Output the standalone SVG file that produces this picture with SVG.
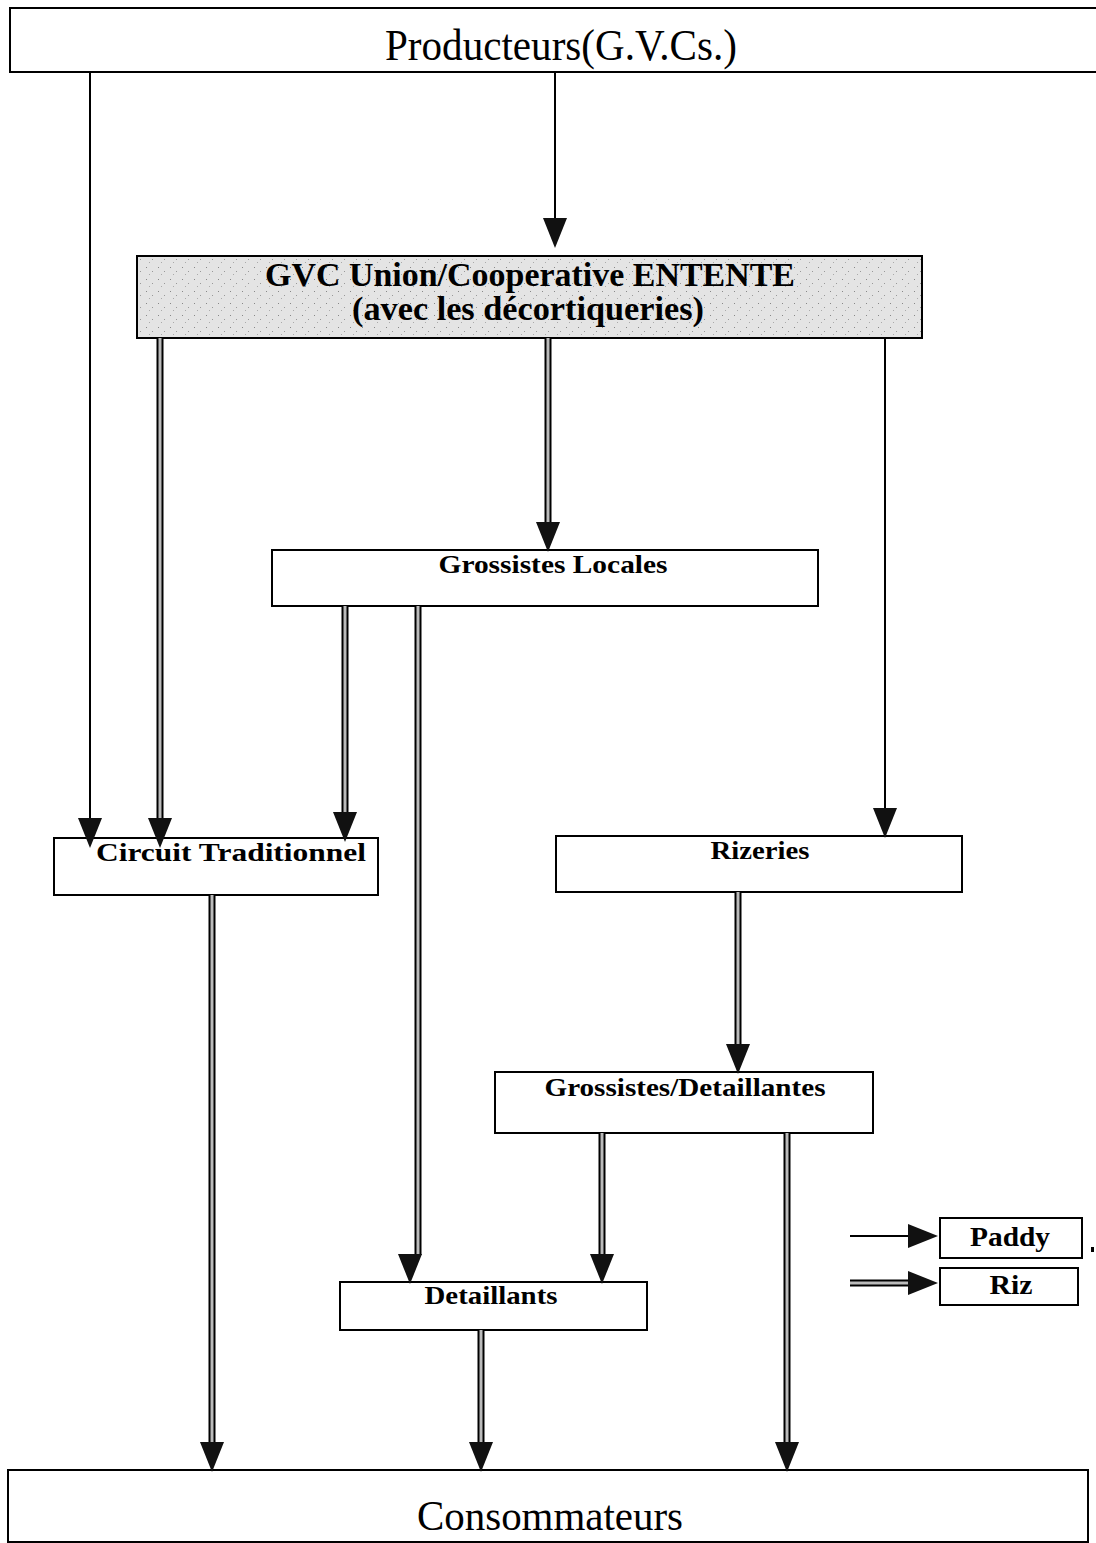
<svg xmlns="http://www.w3.org/2000/svg" width="1096" height="1543" viewBox="0 0 1096 1543">
<style>
.box{fill:#fff;stroke:#000;stroke-width:2}
.t{font-family:"Liberation Serif","Times New Roman",serif;fill:#000;text-anchor:middle}
.b{font-weight:bold}
.single{stroke:#000;stroke-width:2;fill:none}
.dblo{stroke:#000;stroke-width:7;fill:none}
.dbli{stroke:#bbb;stroke-width:3;fill:none}
</style>
<defs>
<path id="ah" d="M-12,-28 L12,-28 L0,2 Z" fill="#111"/>
<path id="ahr" d="M-28,-12 L-28,12 L2,0 Z" fill="#111"/>
<pattern id="speck" width="12" height="12" patternUnits="userSpaceOnUse">
<rect width="12" height="12" fill="#e4e4e4"/>
<rect x="2" y="3" width="1" height="1" fill="#888"/>
<rect x="8" y="7" width="1" height="1" fill="#999"/>
<rect x="5" y="10" width="1" height="1" fill="#aaa"/>
</pattern>
</defs>
<g id="producteurs">
<rect class="box" x="10" y="8" width="1090" height="64"/>
<text class="t" x="561" y="60" font-size="44" textLength="352" lengthAdjust="spacingAndGlyphs">Producteurs(G.V.Cs.)</text>
</g>
<g id="gvc">
<rect x="137" y="256" width="785" height="82" fill="url(#speck)" stroke="#000" stroke-width="2"/>
<text class="t b" x="530" y="286" font-size="34" textLength="530" lengthAdjust="spacingAndGlyphs">GVC Union/Cooperative ENTENTE</text>
<text class="t b" x="528" y="320" font-size="34" textLength="352" lengthAdjust="spacingAndGlyphs">(avec les décortiqueries)</text>
</g>
<g id="grossistes-locales">
<rect class="box" x="272" y="550" width="546" height="56"/>
<text class="t b" x="553" y="573" font-size="26" textLength="229" lengthAdjust="spacingAndGlyphs">Grossistes Locales</text>
</g>
<g id="circuit-traditionnel">
<rect class="box" x="54" y="838" width="324" height="57"/>
<text class="t b" x="231" y="861" font-size="26" textLength="270" lengthAdjust="spacingAndGlyphs">Circuit Traditionnel</text>
</g>
<g id="rizeries">
<rect class="box" x="556" y="836" width="406" height="56"/>
<text class="t b" x="760" y="859" font-size="26" textLength="99" lengthAdjust="spacingAndGlyphs">Rizeries</text>
</g>
<g id="grossistes-detaillantes">
<rect class="box" x="495" y="1072" width="378" height="61"/>
<text class="t b" x="685" y="1096" font-size="26" textLength="281" lengthAdjust="spacingAndGlyphs">Grossistes/Detaillantes</text>
</g>
<g id="detaillants">
<rect class="box" x="340" y="1282" width="307" height="48"/>
<text class="t b" x="491" y="1304" font-size="26" textLength="133" lengthAdjust="spacingAndGlyphs">Detaillants</text>
</g>
<g id="consommateurs">
<rect class="box" x="8" y="1470" width="1080" height="72"/>
<text class="t" x="550" y="1530" font-size="42" textLength="266" lengthAdjust="spacingAndGlyphs">Consommateurs</text>
</g>
<g id="legend">
<line class="single" x1="850" y1="1236" x2="910" y2="1236"/>
<use href="#ahr" x="936" y="1236"/>
<rect class="box" x="940" y="1218" width="142" height="40"/>
<text class="t b" x="1010" y="1246" font-size="27" textLength="80" lengthAdjust="spacingAndGlyphs">Paddy</text>
<line class="dblo" x1="850" y1="1283" x2="910" y2="1283"/>
<line class="dbli" x1="850" y1="1283" x2="910" y2="1283"/>
<use href="#ahr" x="936" y="1283"/>
<rect class="box" x="940" y="1268" width="138" height="37"/>
<text class="t b" x="1011" y="1294" font-size="27" textLength="43" lengthAdjust="spacingAndGlyphs">Riz</text>
<rect x="1091" y="1247" width="3" height="5" fill="#000"/>
</g>
<g id="connectors">
<line class="single" x1="90" y1="72" x2="90" y2="820"/>
<use href="#ah" x="90" y="846"/>
<line class="single" x1="555" y1="72" x2="555" y2="220"/>
<use href="#ah" x="555" y="246"/>
<line class="single" x1="885" y1="338" x2="885" y2="810"/>
<use href="#ah" x="885" y="836"/>
<g>
<path class="dblo" d="M160,338V820 M548,338V525 M345,606V815 M418,606V1255 M212,895V1445 M738,892V1047 M602,1133V1257 M787,1133V1445 M481,1330V1445"/>
<path class="dbli" d="M160,338V820 M548,338V525 M345,606V815 M418,606V1255 M212,895V1445 M738,892V1047 M602,1133V1257 M787,1133V1445 M481,1330V1445"/>
</g>
<use href="#ah" x="160" y="846"/>
<use href="#ah" x="548" y="550"/>
<use href="#ah" x="345" y="840"/>
<use href="#ah" x="410" y="1282"/>
<use href="#ah" x="212" y="1470"/>
<use href="#ah" x="738" y="1072"/>
<use href="#ah" x="602" y="1282"/>
<use href="#ah" x="787" y="1470"/>
<use href="#ah" x="481" y="1470"/>
</g>
</svg>
